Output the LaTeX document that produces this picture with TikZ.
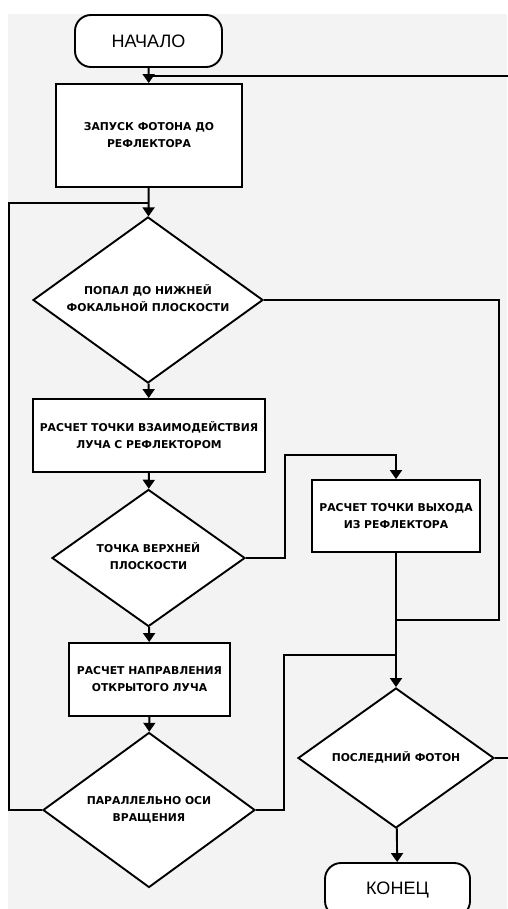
\documentclass[tikz,border=0pt]{standalone}
\usepackage{fontspec}
\setmainfont{Liberation Sans}
\newfontfamily\boxfont{DejaVu Sans}
\usetikzlibrary{shapes.geometric,arrows.meta}
\definecolor{bgc}{HTML}{F3F3F3}
\newcommand\dtext[1]{\smash{\raisebox{-2.5pt}{\makebox[0pt]{\begin{tabular}{@{}c@{}}#1\end{tabular}}}}}
\tikzset{
  x=1pt,y=-1pt,
  line/.style={line width=1.9pt,line join=miter},
  arr/.style={line, -{Triangle[length=9pt,width=12pt]}},
  term/.style={draw,line width=1.9pt,fill=white,rounded corners=16pt,inner sep=0pt,font=\fontsize{18}{20}\selectfont},
  proc/.style={draw,line width=1.9pt,fill=white,inner sep=0pt,align=center,font=\boxfont\bfseries\fontsize{10.8}{17}\selectfont},
  dec/.style={draw,diamond,line width=1.9pt,fill=white,inner sep=0pt,font=\boxfont\bfseries\fontsize{10.8}{17}\selectfont},
}
\begin{document}
\begin{tikzpicture}
\useasboundingbox (0,0) rectangle (507,909);
\fill[bgc] (8,14) rectangle (507,909);

\node[term, minimum width=147pt, minimum height=52pt] (start) at (148.5,41) {НАЧАЛО};
\node[proc, minimum width=186pt, minimum height=103pt] (b1) at (149,135.5) {ЗАПУСК ФОТОНА ДО\\РЕФЛЕКТОРА};
\node[dec, minimum width=230pt, minimum height=166pt] (d1) at (148,300) {\dtext{ПОПАЛ ДО НИЖНЕЙ\\ФОКАЛЬНОЙ ПЛОСКОСТИ}};
\node[proc, minimum width=232pt, minimum height=73pt] (b2) at (149,435.5) {РАСЧЕТ ТОЧКИ ВЗАИМОДЕЙСТВИЯ\\ЛУЧА С РЕФЛЕКТОРОМ};
\node[dec, minimum width=193pt, minimum height=137pt] (d2) at (148.5,558) {\dtext{ТОЧКА ВЕРХНЕЙ\\ПЛОСКОСТИ}};
\node[proc, minimum width=168pt, minimum height=72pt] (b3) at (396,516) {РАСЧЕТ ТОЧКИ ВЫХОДА\\ИЗ РЕФЛЕКТОРА};
\node[proc, minimum width=161pt, minimum height=73pt] (b4) at (149.5,679.5) {РАСЧЕТ НАПРАВЛЕНИЯ\\ОТКРЫТОГО ЛУЧА};
\node[dec, minimum width=212pt, minimum height=155pt] (d3) at (149,810) {\dtext{ПАРАЛЛЕЛЬНО ОСИ\\ВРАЩЕНИЯ}};
\node[dec, minimum width=196pt, minimum height=140pt] (d4) at (396,758) {\dtext{ПОСЛЕДНИЙ ФОТОН}};
\node[term, minimum width=145pt, minimum height=54pt] (end) at (397.5,890) {КОНЕЦ};

\coordinate (rin) at (515,76);
\coordinate (rout) at (515,758);
\coordinate (lj) at (149,203);
\coordinate (mj) at (396,620);
\coordinate (nj) at (396,655);

\draw[arr] (start) -- (b1);
\draw[line] (rin) -- (149,76);
\draw[arr] (b1) -- (d1);
\draw[line] (d3.west) -- (9,810) -- (9,203) -- (lj);
\draw[arr] (d1) -- (b2);
\draw[line] (d1.east) -- (499,300) -- (499,620) -- (mj);
\draw[arr] (b2) -- (d2);
\draw[arr] (d2.east) -- (285,558) -- (285,455) -- (396,455) -- (b3.north);
\draw[arr] (d2) -- (b4);
\draw[arr] (b4) -- (d3);
\draw[line] (d3.east) -- (284,810) -- (284,655) -- (nj);
\draw[arr] (b3) -- (d4);
\draw[line] (d4.east) -- (rout);
\draw[arr] (d4) -- (end);
\end{tikzpicture}
\end{document}
